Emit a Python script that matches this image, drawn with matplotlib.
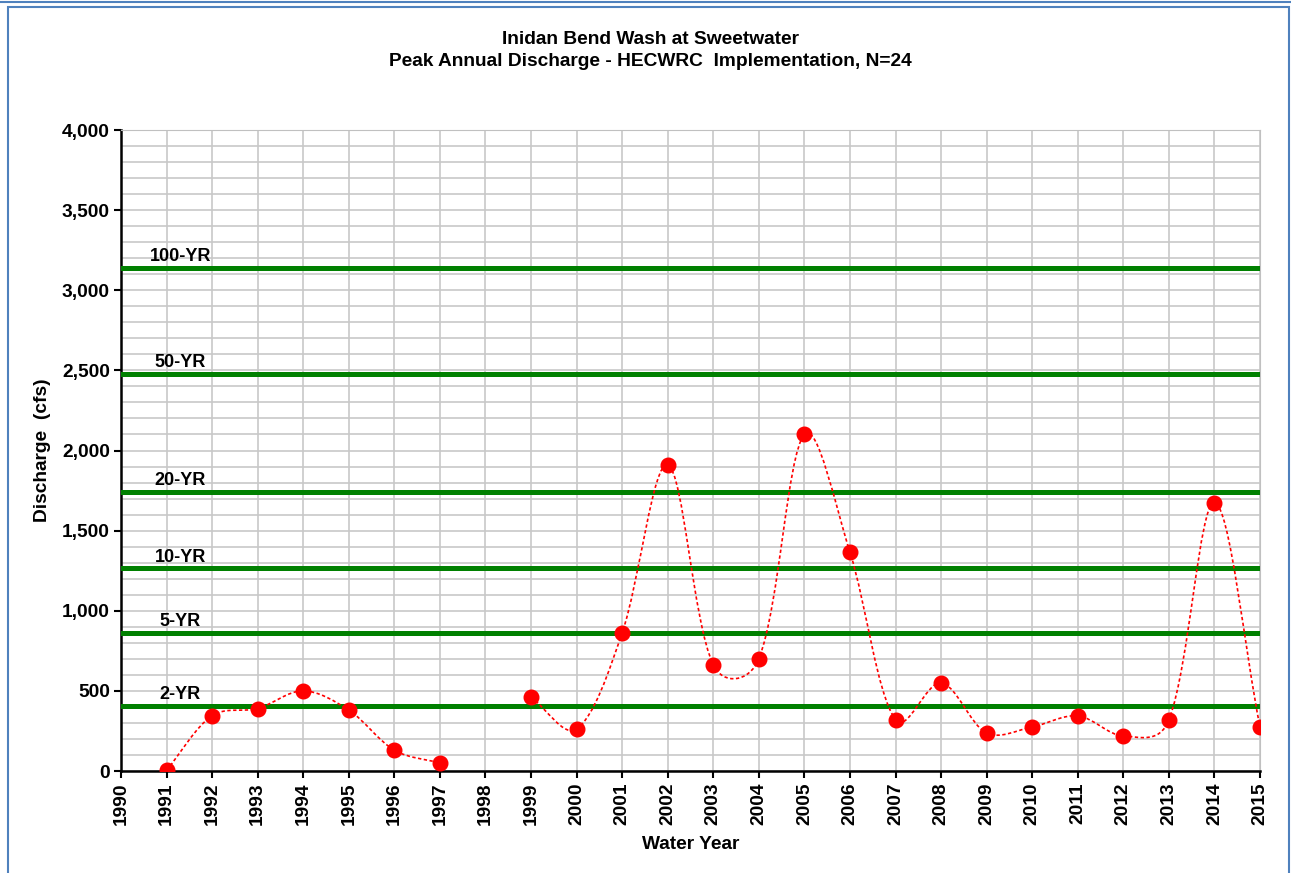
import numpy as np
import matplotlib
matplotlib.use("Agg")
import matplotlib.pyplot as plt
from matplotlib.path import Path
from matplotlib.patches import PathPatch, Rectangle
from matplotlib.lines import Line2D
from matplotlib.ticker import FuncFormatter, MultipleLocator

plt.rcParams['font.family'] = ['Liberation Sans', 'DejaVu Sans']

# # Peak annual discharge (cfs), 1998 has no record
years = list(range(1991, 2016))
discharge = [5, 345, 390, 500, 380, 130, 50, np.nan, 460, 262, 862, 1910,
             662, 700, 2100, 1365, 319, 550, 237, 275, 344, 219, 319, 1675, 275]

# # Return period discharges from the HECWRC analysis
rp_labels = ['100-YR', '50-YR', '20-YR', '10-YR', '5-YR', '2-YR']
rp_values = [3140, 2480, 1740, 1265, 860, 405]

x_ticks = list(range(1990, 2016))

FS = 13.8


def smooth_path(ax, xs, ys):
    # Excel-like smoothed line: cubic Bezier, tangents weighted by screen distance
    pts_d = np.column_stack([xs, ys])
    pts_s = ax.transData.transform(pts_d)
    inv = ax.transData.inverted()
    n = len(xs)
    verts = [tuple(pts_d[0])]
    codes = [Path.MOVETO]
    for i in range(n - 1):
        p0 = pts_s[max(i - 1, 0)]
        p1 = pts_s[i]
        p2 = pts_s[i + 1]
        p3 = pts_s[min(i + 2, n - 1)]
        d01 = np.sqrt(np.hypot(*(p1 - p0)))
        d12 = np.sqrt(np.hypot(*(p2 - p1)))
        d23 = np.sqrt(np.hypot(*(p3 - p2)))
        f1 = d12 / (d01 + d12) if d01 + d12 > 0 else 0.5
        f2 = d12 / (d12 + d23) if d12 + d23 > 0 else 0.5
        c1 = p1 + (p2 - p0) * f1 / 3.0
        c2 = p2 - (p3 - p1) * f2 / 3.0
        verts += [tuple(inv.transform(c1)), tuple(inv.transform(c2)), tuple(pts_d[i + 1])]
        codes += [Path.CURVE4] * 3
    return Path(verts, codes)


fig = plt.figure(figsize=(12.91, 8.73), dpi=100)
ax = fig.add_axes([121 / 1291, 1 - 771 / 873, (1260 - 121) / 1291, (771 - 130) / 873])

# # blue chart border like the spreadsheet export
fig.add_artist(Line2D([0, 1], [1 - 1.5 / 873] * 2, transform=fig.transFigure,
                      color='#4f81bd', lw=1.5))
fig.add_artist(Rectangle((8 / 1291, -0.05), (1289 - 8) / 1291, 1.05 - 7 / 873,
                         transform=fig.transFigure, fill=False,
                         edgecolor='#4f81bd', lw=1.5))

ax.set_xlim(1990, 2015)
ax.set_ylim(0, 4000)
ax.set_xticks(x_ticks)
ax.set_xticklabels([str(x) for x in x_ticks], rotation=90, fontsize=FS, fontweight='bold')
ax.yaxis.set_major_locator(MultipleLocator(500))
ax.yaxis.set_minor_locator(MultipleLocator(100))
ax.yaxis.set_major_formatter(FuncFormatter(lambda v, p: f"{int(v):,}"))
for lbl in ax.get_yticklabels():
    lbl.set_fontsize(FS)
    lbl.set_fontweight('bold')
ax.tick_params(axis='both', which='major', direction='out', length=5, width=1.5,
               color='black', pad=3)
ax.tick_params(axis='y', which='minor', length=0)

ax.grid(True, which='both', color='#c8c8c8', lw=1.2)
ax.set_axisbelow(True)
ax.spines['left'].set_linewidth(1.8)
ax.spines['bottom'].set_linewidth(1.8)
ax.spines['top'].set_color('#c0c0c0')
ax.spines['right'].set_color('#c0c0c0')

# # return period lines
for lab, val in zip(rp_labels, rp_values):
    ax.axhline(val, color='#008000', lw=3.6, zorder=3)
    ax.annotate(lab, xy=(1991.3, val), xytext=(0, 2), textcoords='offset points',
                ha='center', va='bottom', fontsize=FS - 0.8, fontweight='bold', zorder=4)

# # smoothed dotted line, broken at missing year
yr = np.array(years, dtype=float)
q = np.array(discharge, dtype=float)
ok = ~np.isnan(q)
breaks = np.where(~ok)[0]
start = 0
for b in list(breaks) + [len(q)]:
    seg_x, seg_y = yr[start:b], q[start:b]
    if len(seg_x) > 1:
        ax.add_patch(PathPatch(smooth_path(ax, seg_x, seg_y), fill=False, edgecolor='red',
                               lw=1.2, linestyle=(0, (2, 1.5)), zorder=5))
    start = b + 1

ax.plot(yr[ok], q[ok], 'o', color='red', markersize=10.5, zorder=6)

ax.set_xlabel('Water Year', fontsize=FS, fontweight='bold', labelpad=8)
ax.set_ylabel('Discharge  (cfs)', fontsize=FS, fontweight='bold', labelpad=8)
fig.text(0.5035, 1 - 40 / 873, 'Inidan Bend Wash at Sweetwater', ha='center', va='center',
         fontsize=FS, fontweight='bold')
fig.text(0.5035, 1 - 61 / 873, 'Peak Annual Discharge - HECWRC  Implementation, N=24',
         ha='center', va='center', fontsize=FS, fontweight='bold')

plt.savefig('out.png', dpi=100)
